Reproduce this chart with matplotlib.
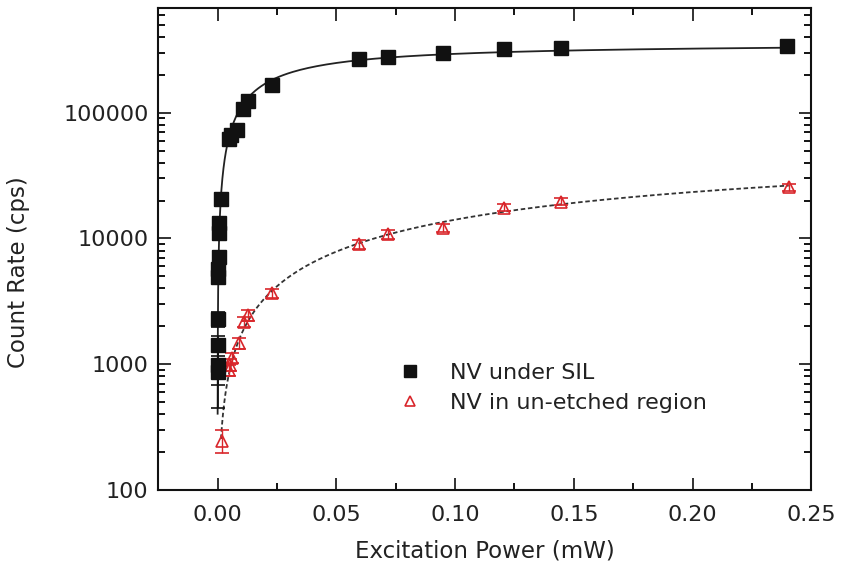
import numpy as np
import matplotlib.pyplot as plt
from matplotlib.lines import Line2D
from matplotlib.ticker import MultipleLocator, LogLocator, NullFormatter, FixedFormatter, FixedLocator

# NV under SIL (black squares)
sil_power = [0.00005, 0.00006, 0.00009, 0.00014, 0.0003, 0.00034, 0.00043, 0.00067, 0.0008, 0.0013,
             0.0047, 0.0055, 0.0082, 0.0105, 0.0128, 0.023, 0.0597, 0.0717, 0.095, 0.1204, 0.1444, 0.2398]
sil_counts = [870, 980, 1420, 2290, 4970, 5700, 7170, 11000, 13200, 20500,
              61900, 67000, 72900, 107000, 125000, 165000, 270000, 279000, 300000, 321000, 329000, 341000]
sil_err = [420, 300, 250, 300, 500, 600, 800, 1300, 1500, 2500,
           6000, 6000, 7000, 8000, 9000, 10000, 10000, 10000, 10000, 10000, 10000, 12000]

# NV in un-etched region (red triangles)
bulk_power = [0.0018, 0.005, 0.0054, 0.006, 0.0089, 0.011, 0.013, 0.023, 0.0597, 0.0717, 0.095, 0.1204, 0.1444, 0.2405]
bulk_counts = [247, 900, 990, 1117, 1464, 2180, 2470, 3680, 8960, 10770, 12180, 17600, 19660, 25430]
bulk_err = [50, 90, 100, 100, 150, 200, 250, 300, 700, 800, 900, 1200, 1300, 1800]

x_ticks = [0.00, 0.05, 0.10, 0.15, 0.20, 0.25]
y_ticks = [100, 1000, 10000, 100000]
y_labels = ['100', '1000', '10000', '100000']
labels = ['NV under SIL', 'NV in un-etched region']

BLACK = '#111111'
RED = '#d9262b'


def sat_fit(p, c):
    """ saturation fit I = Imax*P/(P+Psat), least squares in log space """
    p = np.asarray(p)
    lc = np.log(np.asarray(c, dtype=float))
    best = None
    for ps in np.geomspace(1e-3, 1.0, 600):
        lf = np.log(p / (p + ps))
        la = np.mean(lc - lf)
        err = np.sum((lc - la - lf) ** 2)
        if best is None or err < best[0]:
            best = (err, np.exp(la), ps)
    return best[1], best[2]


plt.rcParams['font.family'] = 'DejaVu Sans'
fig = plt.figure(figsize=(8.46, 5.77), dpi=100)
ax = fig.add_axes([0.187, 0.151, 0.772, 0.835])

a1, s1 = sat_fit(sil_power, sil_counts)
a2, s2 = sat_fit(bulk_power, bulk_counts)
p1 = np.geomspace(2.5e-5, max(sil_power), 400)
p2 = np.geomspace(min(bulk_power) * 0.8, max(bulk_power), 400)
ax.plot(p1, a1 * p1 / (p1 + s1), '-', color='#222222', lw=1.3, zorder=2)
ax.plot(p2, a2 * p2 / (p2 + s2), color='#333333', lw=1.3, ls=(0, (2.5, 1.5)), zorder=2)

ax.errorbar(sil_power, sil_counts, yerr=sil_err, fmt='s', color=BLACK, ms=10,
            ecolor=BLACK, elinewidth=1.2, capsize=5, capthick=1.2, zorder=4)
ax.errorbar(bulk_power, bulk_counts, yerr=bulk_err, fmt='^', mfc='none', mec=RED, mew=1.2,
            ms=9, ecolor=RED, elinewidth=1.0, capsize=5, capthick=1.0, zorder=3)

ax.set_yscale('log')
ax.set_xlim(-0.025, 0.25)
ax.set_ylim(100, 6.8e5)
ax.xaxis.set_major_locator(FixedLocator(x_ticks))
ax.xaxis.set_minor_locator(MultipleLocator(0.025))
ax.set_xticklabels(['%.2f' % v for v in x_ticks])
ax.yaxis.set_major_locator(FixedLocator(y_ticks))
ax.yaxis.set_major_formatter(FixedFormatter(y_labels))
ax.yaxis.set_minor_locator(LogLocator(base=10, subs=np.arange(2, 10)))
ax.yaxis.set_minor_formatter(NullFormatter())

ax.tick_params(which='both', direction='in', top=True, right=True, width=1.3)
ax.tick_params(which='major', length=9)
ax.tick_params(which='minor', length=5)
ax.tick_params(axis='x', labelsize=16, pad=11, colors='#222222')
ax.tick_params(axis='y', labelsize=16, pad=7, colors='#222222')
for s in ax.spines.values():
    s.set_linewidth(1.5)
    s.set_color(BLACK)

ax.set_xlabel('Excitation Power (mW)', fontsize=16.5, color='#222222', labelpad=10)
ax.set_ylabel('Count Rate (cps)', fontsize=16.5, color='#222222')
ax.yaxis.set_label_coords(-0.196, 0.452)

handles = [Line2D([], [], ls='none', marker='s', color=BLACK, ms=8),
           Line2D([], [], ls='none', marker='^', mfc='none', mec=RED, mew=1.2, ms=7)]
leg = ax.legend(handles, labels, loc='upper left', bbox_to_anchor=(0.335, 0.305), frameon=False,
                fontsize=16, handletextpad=1.2, labelspacing=0.45, handlelength=1.2)
for t in leg.get_texts():
    t.set_color('#222222')

fig.savefig('out.png', dpi=100)
